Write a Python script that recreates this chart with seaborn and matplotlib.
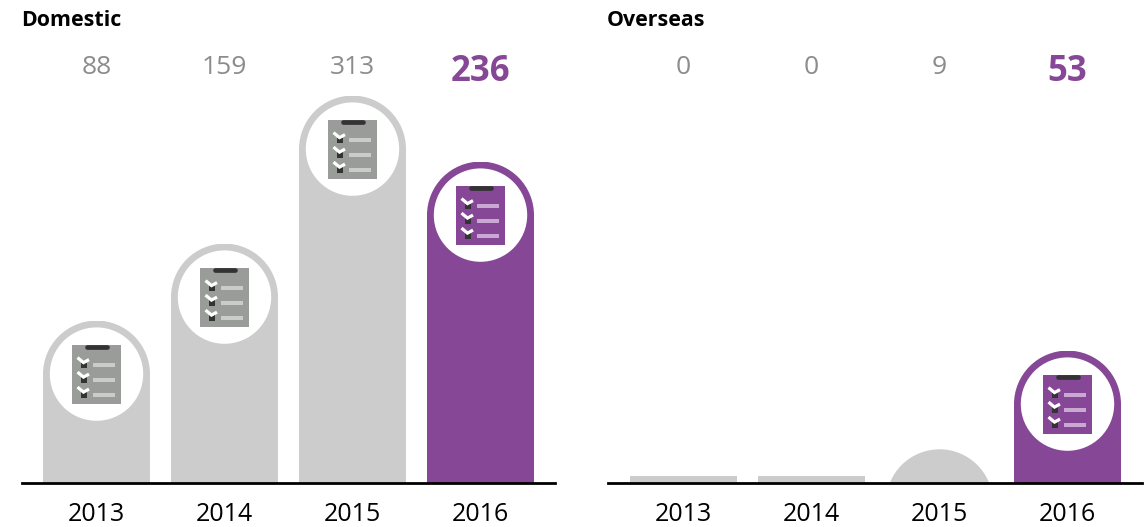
import matplotlib
matplotlib.use("Agg")
import matplotlib.pyplot as plt
import pandas as pd
import seaborn as sns
from matplotlib.patches import Ellipse, Rectangle
from matplotlib.path import Path
from matplotlib.transforms import Affine2D

years = ["2013", "2014", "2015", "2016"]
domestic_labels = ["88", "159", "313", "236"]
domestic_heights = [162.7, 239.7, 387.7, 321.7]
overseas_labels = ["0", "0", "9", "53"]
overseas_heights = [7, 7, 34, 132.7]

GREY = "#CCCCCC"
PURPLE = "#864797"
TEXT_GREY = "#8C8C8C"
W, H = 1145, 527
BASE = 483.3
STEP = 128.0
BAR_W = 107.0
R = BAR_W / 2

sns.set_theme(style="white")
plt.rcParams["font.family"] = ["Open Sans", "DejaVu Sans"]

fig = plt.figure(figsize=(W / 100, H / 100), dpi=100, facecolor="white")


def top_path(i, h):
    """Column outline with a semicircular cap, in data units."""
    sx = 1 / STEP
    c = Path.unit_circle()
    circ = c.transformed(Affine2D().scale(R * sx, R).translate(i, h - R))
    yb = max(h - R, 0)
    x0, x1 = i - R * sx, i + R * sx
    rect = Path([(x0, 0), (x1, 0), (x1, yb), (x0, yb), (x0, 0)],
                [Path.MOVETO, Path.LINETO, Path.LINETO, Path.LINETO, Path.CLOSEPOLY])
    return Path.make_compound_path(rect, circ)


def icon(ax, i, h, colour, light):
    sx = 1 / STEP
    cy = h - R
    ax.add_patch(Ellipse((i, cy), 2 * 46.7 * sx, 2 * 46.7, fc="white", ec="none", zorder=3))
    ax.add_patch(Rectangle((i - 24.5 * sx, cy - 30), 49 * sx, 59, fc=colour, ec="none", zorder=4))
    ax.plot([i - 10 * sx, i + 10 * sx], [cy + 26.8, cy + 26.8], color="#333333", lw=3.4,
            solid_capstyle="round", zorder=5)
    for off in (0, 14.5, 29.5):
        ax.add_patch(Rectangle((i - 15.5 * sx, cy + 6 - off), 6 * sx, 5.5, fc="#333333", ec="none", zorder=5))
        ax.add_patch(Rectangle((i - 3.5 * sx, cy + 7 - off), 22 * sx, 4, fc=light, ec="none", zorder=5))
        ax.plot([i - 19 * sx, i - 13 * sx, i - 7.5 * sx],
                [cy + 16.5 - off, cy + 11.5 - off, cy + 14.5 - off],
                color="white", lw=2.3, solid_capstyle="butt", solid_joinstyle="miter", zorder=6)


def panel(x_left, x_right, first_centre, title, labels, heights):
    ax = fig.add_axes([x_left / W, (H - BASE) / H, (x_right - x_left) / W, BASE / H])
    df = pd.DataFrame({"year": years, "height": heights})
    palette = {y: GREY for y in years}
    palette[years[-1]] = PURPLE
    sns.barplot(data=df, x="year", y="height", hue="year", palette=palette, legend=False,
                width=BAR_W / STEP, saturation=1, ax=ax, order=years, hue_order=years)
    for i, (container, h) in enumerate(zip(ax.containers, heights)):
        for bar in container:
            bar.set_edgecolor("none")
            bar.set_linewidth(0)
            bar.set_zorder(2)
            if h > 20:
                bar.set_clip_path(top_path(i, h), ax.transData)
        if h > 100:
            last = i == len(years) - 1
            icon(ax, i, h, PURPLE if last else "#9A9C9A", "#C9A9D3" if last else "#CBCBCB")
    ax.set_xlim(-(first_centre - x_left) / STEP, (x_right - first_centre) / STEP)
    ax.set_ylim(0, BASE)
    ax.set_xlabel("")
    ax.set_ylabel("")
    ax.set_yticks([])
    ax.patch.set_alpha(0)
    sns.despine(ax=ax, left=True)
    ax.spines["bottom"].set_color("black")
    ax.spines["bottom"].set_linewidth(2.0)
    ax.spines["bottom"].set_zorder(7)
    ax.tick_params(axis="x", length=0, pad=13.2, labelsize=18, labelcolor="black")
    for i, lab in enumerate(labels):
        last = i == len(labels) - 1
        ax.text(i, BASE - (81 if last else 74), lab,
                ha="center", va="baseline",
                color=PURPLE if last else TEXT_GREY,
                fontsize=25 if last else 19,
                fontweight="bold" if last else "normal")
    ax.text(-0.002, BASE - 26.5, title, transform=ax.get_yaxis_transform(),
            ha="left", va="baseline", fontsize=15.4, fontweight="bold", color="black")
    return ax


panel(22, 555, 96.5, "Domestic", domestic_labels, domestic_heights)
panel(608, 1142, 683.5, "Overseas", overseas_labels, overseas_heights)

fig.savefig("out.png", dpi=100, facecolor="white")
